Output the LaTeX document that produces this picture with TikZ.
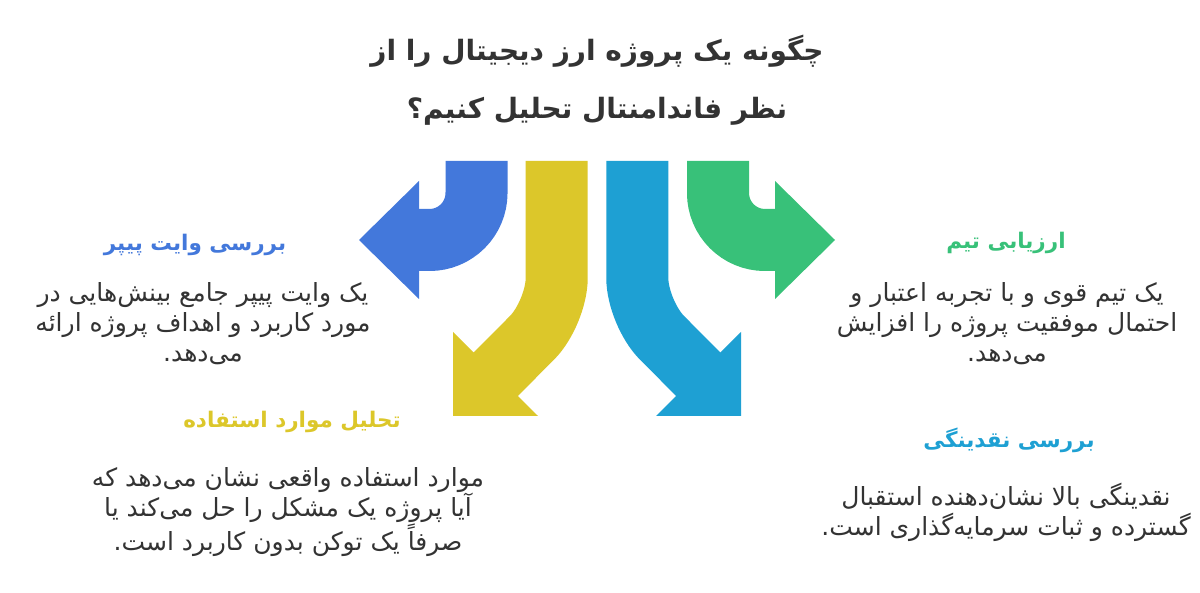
\documentclass[tikz,border=0pt]{standalone}
\usepackage{fontspec}
\newfontfamily\fa[Script=Arabic]{DejaVu Sans}
\TeXXeTstate=1
\definecolor{cblue}{HTML}{4378DB}
\definecolor{cyellow}{HTML}{DCC72A}
\definecolor{ccyan}{HTML}{1EA0D3}
\definecolor{cgreen}{HTML}{38C179}
\definecolor{ctext}{HTML}{333333}
\begin{document}
\begin{tikzpicture}[x=1pt,y=-1pt,
  shaft/.style={line width=62pt, line cap=butt},
  titletext/.style={font=\fa\bfseries\fontsize{28}{58}\selectfont, text=ctext, align=center, inner sep=0pt},
  headtext/.style={font=\fa\bfseries\fontsize{21.5}{26}\selectfont, inner sep=0pt},
  bodytext/.style={font=\fa\fontsize{25}{30}\selectfont, text=ctext, align=center, inner sep=0pt}]
\useasboundingbox (0,0) rectangle (1200,593);
\fill[white] (0,0) rectangle (1200,593);

% blue arrow
\coordinate (b0) at (476.5,161);
\coordinate (b1) at (476.5,240);
\coordinate (b2) at (417,240);
\draw[shaft, cblue, rounded corners=47pt] (b0) -- (b1) -- (b2);
\fill[cblue] (419,181) -- (359,240) -- (419,299) -- cycle;

% green arrow
\coordinate (g0) at (718,161);
\coordinate (g1) at (718,240);
\coordinate (g2) at (777,240);
\draw[shaft, cgreen, rounded corners=47pt] (g0) -- (g1) -- (g2);
\fill[cgreen] (775,181) -- (835,240) -- (775,299) -- cycle;

% yellow arrow
\coordinate (y0) at (556.7,161);
\coordinate (y1) at (556.7,313);
\coordinate (y2) at (494,376);
\draw[shaft, cyellow, rounded corners=35pt] (y0) -- (y1) -- (y2);
\fill[cyellow] (453,332) -- (538,416) -- (453,416) -- cycle;

% cyan arrow
\coordinate (c0) at (637.3,161);
\coordinate (c1) at (637.3,313);
\coordinate (c2) at (700,376);
\draw[shaft, ccyan, rounded corners=35pt] (c0) -- (c1) -- (c2);
\fill[ccyan] (741,332) -- (656,416) -- (741,416) -- cycle;

% title
\node[titletext] (title) at (597,80) {\beginR چگونه یک پروژه ارز دیجیتال را از\endR\\\beginR نظر فاندامنتال تحلیل کنیم؟\endR};

% blue block
\node[headtext, text=cblue] (bhead) at (195,245) {\beginR بررسی وایت پیپر\endR};
\node[bodytext] (bbody) at (203,324) {\beginR یک وایت پیپر جامع بینش‌هایی در\endR\\\beginR مورد کاربرد و اهداف پروژه ارائه\endR\\\beginR می‌دهد.\endR};

% green block
\node[headtext, text=cgreen] (ghead) at (1006,243) {\beginR ارزیابی تیم\endR};
\node[bodytext] (gbody) at (1007,324) {\beginR یک تیم قوی و با تجربه اعتبار و\endR\\\beginR احتمال موفقیت پروژه را افزایش\endR\\\beginR می‌دهد.\endR};

% yellow block
\node[headtext, text=cyellow] (yhead) at (292,422) {\beginR تحلیل موارد استفاده\endR};
\node[bodytext] (ybody) at (288,512) {\beginR موارد استفاده واقعی نشان می‌دهد که\endR\\\beginR آیا پروژه یک مشکل را حل می‌کند یا\endR\\\beginR صرفاً یک توکن بدون کاربرد است.\endR};

% cyan block
\node[headtext, text=ccyan] (chead) at (1009,440) {\beginR بررسی نقدینگی\endR};
\node[bodytext] (cbody) at (1006,512) {\beginR نقدینگی بالا نشان‌دهنده استقبال\endR\\\beginR گسترده و ثبات سرمایه‌گذاری است.\endR};
\end{tikzpicture}
\end{document}
